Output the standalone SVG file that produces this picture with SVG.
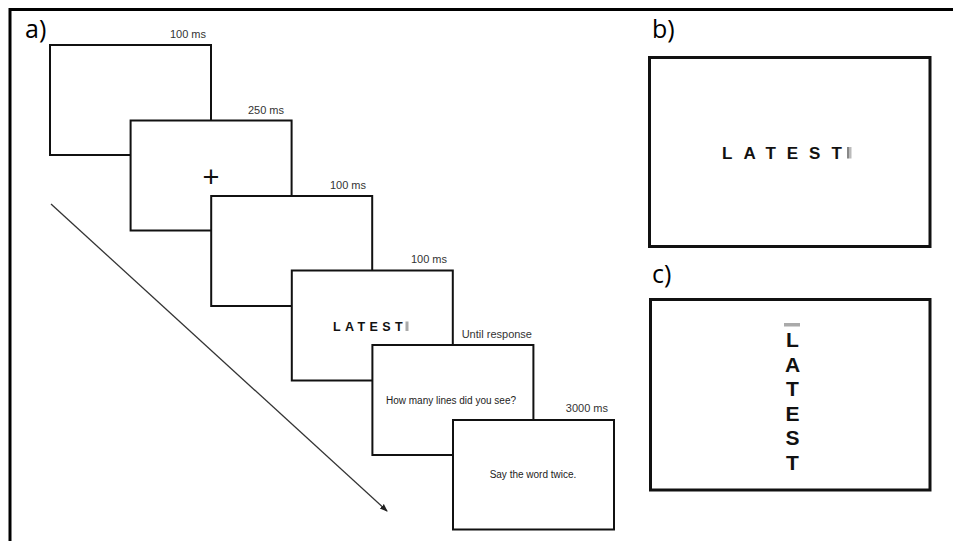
<svg xmlns="http://www.w3.org/2000/svg" width="953" height="541" viewBox="0 0 953 541">
<style>
.frame{fill:none;stroke:#000;stroke-width:3}
.scr{fill:#fff;stroke:#111;stroke-width:2}
.pan{fill:#fff;stroke:#111;stroke-width:3}
.lbl{font-family:"Open Sans","Noto Sans",sans-serif;font-size:25px;fill:#000}
.t{font-family:"Liberation Sans",Arial,sans-serif;font-size:11px;fill:#333;text-anchor:end}
.q{font-family:"Liberation Sans",Arial,sans-serif;font-size:10px;fill:#222;text-anchor:middle}
.w{font-family:"Liberation Sans",Arial,sans-serif;font-weight:bold;fill:#111}
</style>
<defs>
<marker id="ah" markerWidth="8" markerHeight="8" refX="7" refY="4" orient="auto" markerUnits="userSpaceOnUse">
<path d="M0,1 L8,4 L0,7 Z" fill="#222"/>
</marker>
</defs>
<rect width="953" height="541" fill="#fff"/>
<path class="frame" d="M10,541 V9.5 H953"/>
<text class="lbl" x="25" y="38">a)</text>
<text class="lbl" x="652" y="38">b)</text>
<text class="lbl" x="652" y="283">c)</text>
<g id="connectors">
<line x1="51" y1="204" x2="387" y2="511" stroke="#333" stroke-width="1.3" marker-end="url(#ah)"/>
</g>
<g id="screen1">
<rect class="scr" x="50" y="45" width="161" height="110"/>
<text class="t" x="206" y="38">100 ms</text>
</g>
<g id="screen2">
<rect class="scr" x="130.6" y="120.5" width="161" height="110"/>
<text class="t" x="284" y="114">250 ms</text>
<text x="211" y="186.5" font-family="Liberation Sans,Arial,sans-serif" font-size="29" fill="#111" text-anchor="middle">+</text>
</g>
<g id="screen3">
<rect class="scr" x="211.2" y="196" width="161" height="110"/>
<text class="t" x="366" y="189">100 ms</text>
</g>
<g id="screen4">
<rect class="scr" x="291.8" y="270.5" width="161" height="110"/>
<text class="t" x="447" y="263">100 ms</text>
<text class="w" x="333" y="331" font-size="12.5" letter-spacing="4.4">LATEST</text>
<rect x="405.5" y="321.5" width="3" height="9.5" fill="#aaa"/>
</g>
<g id="screen5">
<rect class="scr" x="372.4" y="345" width="161" height="110"/>
<text class="t" x="532" y="338">Until response</text>
<text class="q" x="451" y="404">How many lines did you see?</text>
</g>
<g id="screen6">
<rect class="scr" x="453" y="420" width="161" height="109.5"/>
<text class="t" x="608" y="412">3000 ms</text>
<text class="q" x="533" y="478">Say the word twice.</text>
</g>
<g id="panelB">
<rect class="pan" x="649.5" y="57.5" width="280.5" height="189"/>
<text class="w" x="722" y="158.5" font-size="17" letter-spacing="11">LATEST</text>
<rect x="847" y="147" width="2" height="11.5" fill="#888"/>
<rect x="849" y="147" width="2.5" height="11.5" fill="#bbb"/>
</g>
<g id="panelC">
<rect class="pan" x="650.5" y="299.5" width="279.5" height="190.5"/>
<rect x="784" y="323" width="16" height="3.5" fill="#aaa"/>
<g class="w" font-size="21" text-anchor="middle">
<text x="792.5" y="347">L</text>
<text x="792.5" y="371.6">A</text>
<text x="792.5" y="396.2">T</text>
<text x="792.5" y="420.8">E</text>
<text x="792.5" y="445.4">S</text>
<text x="792.5" y="470">T</text>
</g>
</g>
</svg>
